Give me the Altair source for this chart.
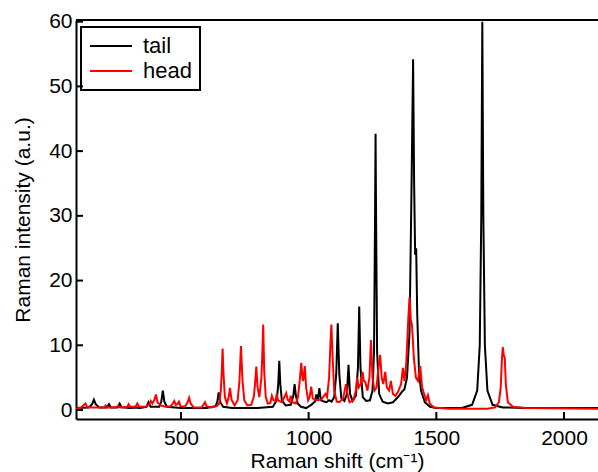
import altair as alt
import pandas as pd

# ---- data ----
tail_x = [89, 140, 152, 159, 166, 180, 210, 218, 226, 252, 260, 268, 300, 320, 340, 365, 373, 381,
          415, 423, 429, 435, 445, 500, 600, 635, 642, 648, 654, 665, 700, 800, 860, 875, 881, 885,
          889, 895, 910, 930, 940, 945, 950, 957, 970, 990, 1010, 1025, 1030, 1036, 1042, 1048,
          1060, 1070, 1080, 1090, 1100, 1108, 1114, 1120, 1128, 1140, 1150, 1156, 1162, 1172,
          1185, 1193, 1198, 1203, 1212, 1225, 1240, 1250, 1256, 1260, 1262, 1264, 1268, 1276,
          1290, 1310, 1330, 1350, 1365, 1375, 1385, 1395, 1403, 1409, 1413, 1417, 1421, 1425,
          1432, 1440, 1455, 1475, 1500, 1600, 1640, 1660, 1670, 1676, 1680, 1684, 1690, 1700,
          1720, 1760, 1850, 2140]
tail_y = [0.3, 0.4, 0.9, 1.6, 0.9, 0.4, 0.4, 0.9, 0.4, 0.4, 1.0, 0.4, 0.3, 0.4, 0.3, 0.5, 1.2, 0.5,
          0.5, 1.3, 3.0, 1.3, 0.5, 0.3, 0.3, 0.6, 1.2, 2.7, 1.2, 0.5, 0.3, 0.3, 0.5, 1.5, 4.0, 7.6,
          4.0, 1.5, 0.7, 0.8, 2.2, 4.0, 2.2, 1.0, 0.5, 0.3, 0.8, 1.3, 2.4, 1.5, 3.4, 1.5,
          1.3, 1.2, 1.5, 1.3, 2.0, 5.5, 13.4, 5.5, 1.8, 1.4, 2.5, 7.0, 2.5, 1.4,
          2.2, 6.5, 16.0, 6.5, 2.0, 1.4, 1.5, 3.0, 9.0, 30.0, 42.7, 30.0, 9.0, 2.5,
          1.3, 1.0, 1.2, 2.0, 2.8, 3.2, 5.0, 12.0, 35.0, 54.2, 35.0, 24.0, 25.0, 15.0,
          6.0, 3.0, 1.2, 0.5, 0.3, 0.3, 0.8, 3.0, 10.0, 30.0, 60.0, 30.0, 10.0, 3.0,
          0.8, 0.4, 0.3, 0.3]

head_x = [89, 110, 120, 126, 132, 150, 200, 205, 212, 240, 255, 262, 290, 295, 300, 322, 329, 336,
          360, 375, 382, 388, 396, 402, 408, 420, 440, 460, 468, 474, 480, 486, 492, 498, 515,
          526, 532, 538, 550, 580, 588, 594, 600, 620, 640, 650, 656, 660, 663, 666, 672, 680,
          686, 692, 698, 710, 722, 729, 735, 741, 748, 760, 775, 785, 790, 795, 800, 807, 815,
          818, 822, 826, 832, 840, 850, 856, 862, 870, 875, 880, 895, 905, 912, 918, 925, 930,
          936, 950, 958, 965, 971, 977, 980, 985, 990, 998, 1004, 1010, 1016, 1030, 1050, 1060,
          1066, 1072, 1080, 1085, 1089, 1093, 1100, 1110, 1120, 1135, 1146, 1152, 1160, 1175,
          1185, 1190, 1196, 1204, 1211, 1216, 1222, 1230, 1238, 1244, 1250, 1258, 1266, 1272,
          1280, 1286, 1292, 1300, 1306, 1315, 1322, 1330, 1340, 1350, 1362, 1369, 1375, 1382,
          1390, 1395, 1400, 1405, 1412, 1420, 1428, 1437, 1444, 1452, 1460, 1467, 1474, 1490,
          1550, 1700, 1730, 1745, 1752, 1757, 1760, 1764, 1768, 1772, 1780, 1800, 1850, 2140]
head_y = [0.2, 0.4, 0.8, 1.0, 0.5, 0.4, 0.4, 0.7, 0.4, 0.4, 0.6, 0.4, 0.5, 0.9, 0.5, 0.5, 1.0, 0.5,
          0.5, 0.8, 1.4, 1.0, 1.6, 2.4, 1.2, 0.7, 0.5, 0.6, 1.0, 1.4, 0.8, 0.9, 1.3, 0.6, 0.5,
          1.2, 1.9, 1.0, 0.4, 0.4, 0.8, 1.2, 0.6, 0.4, 0.6, 1.0, 3.0, 6.0, 9.5, 6.0, 2.0, 1.0,
          1.8, 3.4, 1.6, 0.7, 1.5, 4.5, 9.9, 4.5, 1.5, 0.7, 0.8, 2.0, 4.0, 6.7, 3.5, 2.0, 5.0,
          8.0, 13.2, 6.0, 2.0, 1.0, 1.1, 2.2, 1.5, 1.4, 2.5, 1.5, 1.2, 2.0, 2.6, 1.6, 1.3, 2.2,
          1.2, 1.0, 2.0, 4.5, 7.3, 4.5, 4.8, 6.8, 3.5, 1.5, 2.0, 3.6, 1.8, 1.5, 1.6, 2.2,
          2.5, 2.0, 5.0, 10.0, 13.2, 9.0, 3.0, 1.3, 1.2, 1.8, 4.0, 2.5, 1.2, 1.5,
          3.0, 5.0, 3.5, 4.0, 5.9, 4.5, 4.3, 3.0, 5.0, 10.8, 5.0, 3.0, 3.5, 6.0,
          8.5, 5.0, 4.0, 5.9, 3.5, 3.0, 4.5, 2.5, 2.2, 2.8, 4.0, 6.5, 4.5, 7.0,
          14.0, 17.4, 14.0, 13.0, 8.0, 5.0, 4.5, 6.8, 3.5, 2.5, 1.5, 2.3, 1.0, 0.4,
          0.2, 0.2, 0.4, 1.2, 3.5, 8.0, 9.7, 8.5, 8.0, 4.0, 1.2, 0.5, 0.3, 0.2]

series_names = ["tail", "head"]
series_colors = ["#000000", "#ff0000"]
x_ticks = [500, 1000, 1500, 2000]
y_ticks = [0, 10, 20, 30, 40, 50, 60]

df = pd.concat([
    pd.DataFrame({"shift": tail_x, "intensity": tail_y, "series": "tail", "order": 0}),
    pd.DataFrame({"shift": head_x, "intensity": head_y, "series": "head", "order": 1}),
])

FONT = "Liberation Sans"
W, H = 522, 399
XDOM = [89, 2133]
YDOM = [-1.39, 60.26]
TICK = 7
XTITLE = "Raman shift (cm⁻¹)"
YTITLE = "Raman intensity (a.u.)"

xscale = alt.Scale(domain=XDOM, nice=False, zero=False)
yscale = alt.Scale(domain=YDOM, nice=False, zero=False)

xaxis = alt.Axis(values=x_ticks, format="d", title=XTITLE, grid=False,
                 ticks=False, domainWidth=2, domainColor="black",
                 labelFontSize=21, titleFontSize=21,
                 labelPadding=8, titlePadding=2, labelFont=FONT, titleFont=FONT,
                 titleFontWeight="normal", labelColor="black", titleColor="black",
                 labelFlush=False)
yaxis = alt.Axis(values=y_ticks, title=YTITLE, grid=False,
                 ticks=False, domainWidth=2, domainColor="black",
                 labelFontSize=21, titleFontSize=21,
                 labelPadding=4, titlePadding=15, labelFont=FONT, titleFont=FONT,
                 titleFontWeight="normal", labelColor="black", titleColor="black",
                 labelFlush=False)

lines = alt.Chart(df).mark_line(strokeWidth=2, clip=True).encode(
    x=alt.X("shift:Q", scale=xscale, axis=xaxis),
    y=alt.Y("intensity:Q", scale=yscale, axis=yaxis),
    color=alt.Color("series:N",
                    scale=alt.Scale(domain=series_names, range=series_colors),
                    legend=alt.Legend(orient="none", legendX=5, legendY=7, title=None,
                                      symbolType="stroke", symbolSize=1764,
                                      symbolStrokeWidth=2, clipHeight=22, rowPadding=3,
                                      labelOffset=10, labelFontSize=22, labelFont=FONT,
                                      labelColor="black", padding=8, strokeColor="black")),
    detail="series:N",
    order=alt.Order("order:Q"),
)

# inward-pointing ticks, placed through the same scales
xtick_df = pd.DataFrame({"shift": x_ticks})
ytick_df = pd.DataFrame({"intensity": y_ticks})

xticks = alt.Chart(xtick_df).mark_rule(color="black", strokeWidth=2).encode(
    x=alt.X("shift:Q", scale=xscale, axis=xaxis),
    y=alt.value(H), y2=alt.value(H - TICK),
)
yticks = alt.Chart(ytick_df).mark_rule(color="black", strokeWidth=2).encode(
    y=alt.Y("intensity:Q", scale=yscale, axis=yaxis),
    x=alt.value(0), x2=alt.value(TICK),
)

top_border = alt.Chart().mark_rule(color="black", strokeWidth=2).encode(
    x=alt.value(0), x2=alt.value(W), y=alt.value(0)
)

chart = alt.layer(lines, xticks, yticks, top_border).properties(
    width=W, height=H,
    autosize=alt.AutoSizeParams(type="none"),
    padding={"left": 76, "top": 20, "right": 0, "bottom": 53},
).configure_view(stroke=None).configure_legend(strokeWidth=2)

chart.save("out.html", embed_options={"renderer": "svg", "actions": False})
